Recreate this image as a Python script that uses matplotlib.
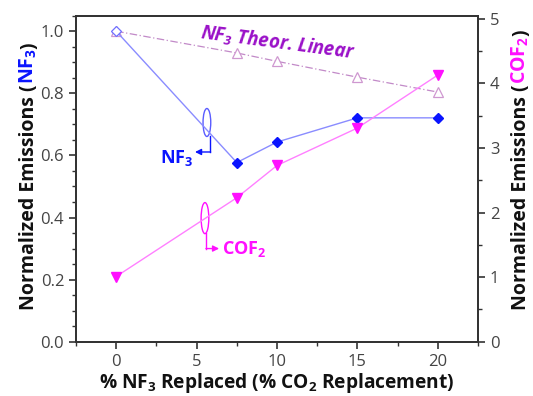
import matplotlib
matplotlib.use("Agg")
import matplotlib.pyplot as plt
from matplotlib.patches import Ellipse
from matplotlib.transforms import IdentityTransform
from matplotlib.ticker import MultipleLocator

plt.rcParams['font.family'] = ['Open Sans', 'DejaVu Sans']
plt.rcParams['mathtext.default'] = 'regular'

# data
pct = [0, 7.5, 10, 15, 20]
nf3 = [1.0, 0.577, 0.643, 0.721, 0.721]
nf3_theor = [1.0, 0.93, 0.903, 0.852, 0.804]
cof2 = [1.01, 2.23, 2.73, 3.31, 4.13]

blue = '#0a14ff'
magenta = '#ff10ff'
purple = '#9a10c8'
grey = '#333333'

fig = plt.figure(figsize=(5.33, 3.96), dpi=100)
ax = fig.add_axes([0.1426, 0.1371, 0.7542, 0.8233])
ax2 = ax.twinx()

# theoretical linear line (open triangles, dash-dot)
ax.plot(pct, nf3_theor, color='#c28ac8', lw=0.9, ls=(0, (6, 2, 1, 2)),
        marker='^', ms=7, mfc='white', mec='#cf98d0', mew=0.9, zorder=3)
# measured NF3
ax.plot(pct, nf3, color='#8a8cff', lw=1.0, zorder=4)
ax.plot(pct[1:], nf3[1:], ls='none', marker='D', ms=5.5, color=blue, zorder=5)
ax.plot(pct[:1], nf3[:1], ls='none', marker='D', ms=5.5, mfc='white',
        mec='#6f6fff', mew=0.9, zorder=5)
# COF2 on right axis
ax2.plot(pct, cof2, color='#ff80ff', lw=1.0, marker='v', ms=7,
         mfc=magenta, mec=magenta)

ax.set_xlim(-2.5, 22.5)
ax.set_ylim(0, 1.05)
ax2.set_ylim(0, 5.05)

ax.xaxis.set_major_locator(MultipleLocator(5))
ax.xaxis.set_minor_locator(MultipleLocator(2.5))
ax.yaxis.set_major_locator(MultipleLocator(0.2))
ax.yaxis.set_minor_locator(MultipleLocator(0.05))
ax2.yaxis.set_major_locator(MultipleLocator(1))
ax2.yaxis.set_minor_locator(MultipleLocator(0.5))

for a in (ax, ax2):
    for s in a.spines.values():
        s.set_color(grey)
        s.set_linewidth(1.3)
    a.tick_params(which='major', direction='out', length=5, width=1.2,
                  color=grey, labelsize=12, labelcolor='#444444')
    a.tick_params(which='minor', direction='out', length=3, width=1.0,
                  color=grey)
ax.tick_params(top=False, right=False, which='both')
ax.set_yticklabels(['%.1f' % v for v in ax.get_yticks()])
ax2.tick_params(left=False, which='both')

ax.set_xlabel('% NF$_3$ Replaced (% CO$_2$ Replacement)', fontsize=13.8,
              fontweight='bold', color='#111111', labelpad=1)

# bracket annotations
ax.add_patch(Ellipse((5.64, 0.706), 0.48, 0.09, fill=False, ec='#5a5cff', lw=1.0))
ax.plot([5.85, 5.85], [0.662, 0.611], color=blue, lw=1.0)
ax.annotate('', xy=(4.9, 0.611), xytext=(5.87, 0.611),
            arrowprops=dict(arrowstyle='-|>', color=blue, lw=1.0,
                            mutation_scale=9, shrinkA=0, shrinkB=0))
ax.text(4.75, 0.593, 'NF$_3$', color=blue, fontsize=13, fontweight='bold',
        ha='right', va='center')

ax.add_patch(Ellipse((5.52, 0.398), 0.48, 0.1, fill=False, ec=magenta, lw=1.0))
ax.plot([5.6, 5.6], [0.349, 0.30], color=magenta, lw=1.0)
ax.annotate('', xy=(6.4, 0.30), xytext=(5.58, 0.30),
            arrowprops=dict(arrowstyle='-|>', color=magenta, lw=1.0,
                            mutation_scale=9, shrinkA=0, shrinkB=0))
ax.text(6.55, 0.30, 'COF$_2$', color=magenta, fontsize=13, fontweight='bold',
        ha='left', va='center')

ax.text(10.05, 0.962, 'NF$_3$ Theor. Linear', color=purple, fontsize=13.5,
        fontweight='bold', style='italic', rotation=-7.5, ha='center',
        va='center')


# multi-coloured rotated axis labels
def multicolor(x, y, pieces):
    renderer = fig.canvas.get_renderer()
    for s, c in pieces:
        t = fig.text(x, y, s, color=c, rotation=90, rotation_mode='anchor',
                     ha='left', va='baseline', fontsize=14,
                     fontweight='bold', transform=IdentityTransform())
        bb = t.get_window_extent(renderer)
        y += bb.height


H = 396
multicolor(34, H - 310, [('Normalized Emissions (', '#111111'),
                         ('NF$_3$', blue), (')', '#111111')])
multicolor(526, H - 310, [('Normalized Emissions (', '#111111'),
                          ('COF$_2$', magenta), (')', '#111111')])

fig.savefig('out.png', dpi=100)
